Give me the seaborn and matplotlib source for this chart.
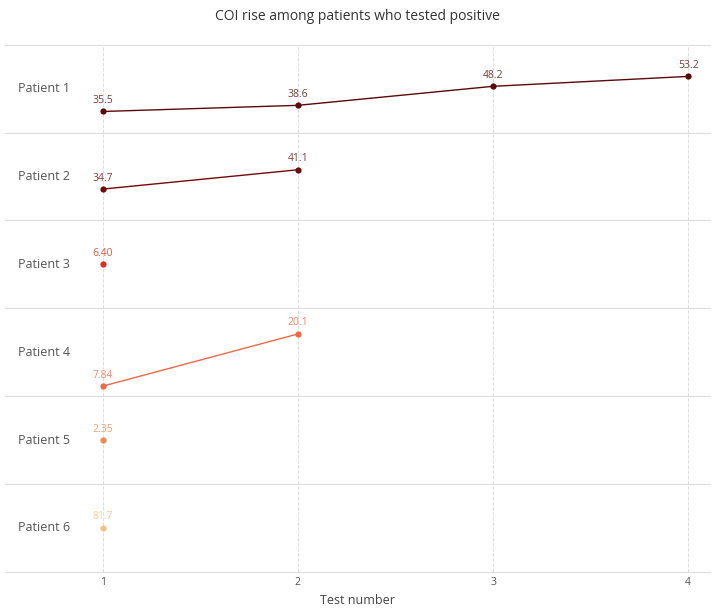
import matplotlib
matplotlib.use("Agg")
import matplotlib.pyplot as plt
import seaborn as sns
import pandas as pd

# COI values per patient, one entry per test
patients = ["Patient 1", "Patient 2", "Patient 3", "Patient 4", "Patient 5", "Patient 6"]
coi_values = [
    [35.5, 38.6, 48.2, 53.2],
    [34.7, 41.1],
    [6.40],
    [7.84, 20.1],
    [2.35],
    [81.7],
]
test_ticks = [1, 2, 3, 4]

sns.set_theme(style="white")
plt.rcParams["font.family"] = ["Open Sans", "DejaVu Sans"]

colors = ["#5a0a0a", "#730a0a", "#d2321f", "#ea6a48", "#f08850", "#f7c080"]

fig, axes = plt.subplots(len(patients), 1, figsize=(7.14, 6.13), dpi=100, sharex=True)
fig.subplots_adjust(left=0.007, right=0.994, top=0.927, bottom=0.067, hspace=0)

for i, (ax, name, vals) in enumerate(zip(axes, patients, coi_values)):
    df = pd.DataFrame({"test": list(range(1, len(vals) + 1)), "coi": vals})
    sns.lineplot(data=df, x="test", y="coi", color=colors[i], marker="o",
                 markersize=4.5, markeredgewidth=0, linewidth=1.0, ax=ax)
    ax.set_ylim(min(vals) * 0.7, max(vals) * 1.3)
    for x, y in zip(df["test"], df["coi"]):
        ax.annotate(f"{y:#.3g}", (x, y), textcoords="offset points", xytext=(0, 4),
                    ha="center", va="bottom", fontsize=7.5, color=colors[i], alpha=0.8)
    ax.text(0.018, 0.5, name, transform=ax.transAxes, ha="left", va="center",
            fontsize=9, color="#555555")
    ax.set_yticks([])
    ax.set_ylabel("")
    ax.set_xlabel("")
    for side in ["left", "right"]:
        ax.spines[side].set_visible(False)
    for side in ["top", "bottom"]:
        ax.spines[side].set_color("#dddddd")
        ax.spines[side].set_linewidth(0.8)
    ax.grid(axis="x", linestyle="--", color="#dddddd", linewidth=0.7)
    ax.set_axisbelow(True)

axes[-1].set_xlim(0.5, 4.11)
axes[-1].set_xticks(test_ticks)
axes[-1].tick_params(axis="x", labelsize=7.5, colors="#555555", length=0, pad=4)
axes[-1].set_xlabel("Test number", fontsize=9, color="#444444")

fig.suptitle("COI rise among patients who tested positive", fontsize=10, color="#333333", y=0.985)

fig.savefig("out.png", dpi=100)
